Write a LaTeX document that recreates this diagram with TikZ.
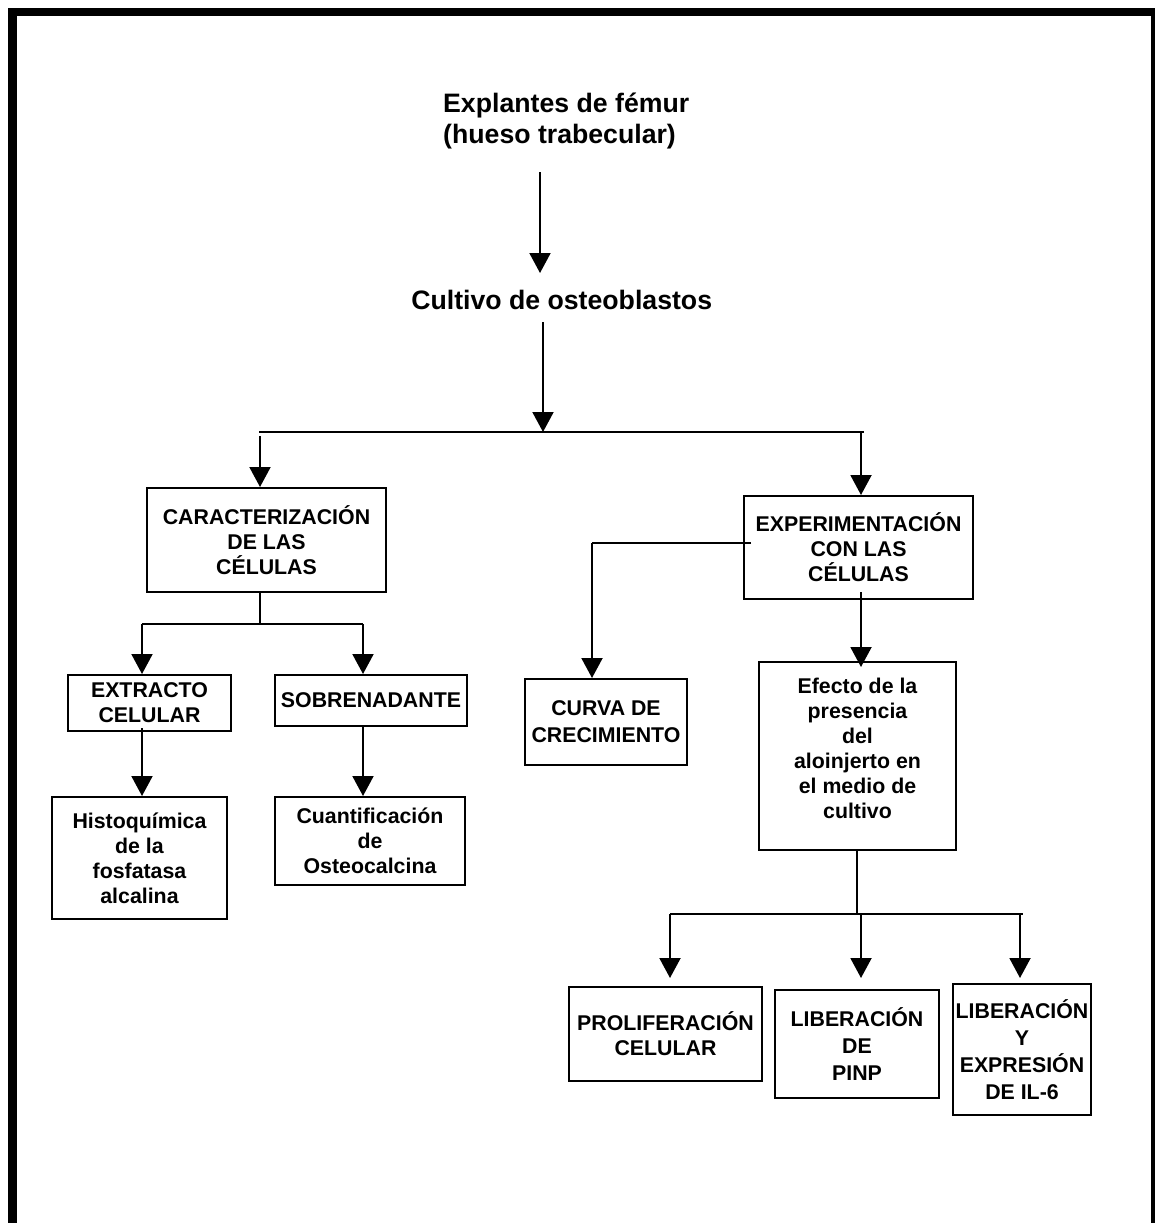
\documentclass[tikz,border=0pt]{standalone}
\usepackage{fontspec}
\setmainfont{Liberation Sans}
\usetikzlibrary{arrows.meta}
\newcommand\boxfnt{\fontsize{21.33}{25}\selectfont\bfseries}
\newcommand\boxfntb{\fontsize{21.33}{27}\selectfont\bfseries}
\newcommand\ttlfnt{\fontsize{26.67}{31}\selectfont\bfseries}
\begin{document}
\begin{tikzpicture}[x=1pt,y=-1pt,
  bx/.style={draw,line width=2pt,inner sep=0pt,align=center,font=\boxfnt},
  ln/.style={line width=2pt},
  arr/.style={line width=2pt,-{Triangle[width=21pt,length=20pt]}},
  ttl/.style={inner sep=0pt,font=\ttlfnt}]
\useasboundingbox (0,0) rectangle (1155,1223);
\begin{scope}
\clip (0,0) rectangle (1155,1223);
\draw[line width=8.4pt] (12.5,12) rectangle (1155,1300);
\end{scope}
% texts
\node[ttl,align=left,anchor=west] (t1) at (443,121) {Explantes de fémur\\(hueso trabecular)};
\node[ttl,anchor=base] (t2) at (561.7,309) {Cultivo de osteoblastos};
% boxes
\node[bx,minimum width=239pt,minimum height=104pt] (car) at (266.5,540) {CARACTERIZACIÓN\\DE LAS\\CÉLULAS};
\node[bx,minimum width=163pt,minimum height=56pt] (ext) at (149.5,703) {EXTRACTO\\CELULAR};
\node[bx,minimum width=192pt,minimum height=51pt] (sob) at (371,700.5) {SOBRENADANTE};
\node[bx,minimum width=175pt,minimum height=122pt] (his) at (139.5,858) {Histoquímica\\de la\\fosfatasa\\alcalina};
\node[bx,minimum width=190pt,minimum height=88pt] (cua) at (370,841) {Cuantificación\\de\\Osteocalcina};
\node[bx,minimum width=229pt,minimum height=103pt] (exp) at (858.5,547.5) {EXPERIMENTACIÓN\\CON LAS\\CÉLULAS};
\node[bx,font=\boxfntb,minimum width=162pt,minimum height=86pt] (cur) at (606,722) {CURVA DE\\CRECIMIENTO};
\node[bx,minimum width=197pt,minimum height=188pt] (efe) at (857.5,756) {Efecto de la\\presencia\\del\\aloinjerto en\\el medio de\\cultivo\\[-9pt]\mbox{}};
\node[bx,minimum width=193pt,minimum height=94pt] (pro) at (665.5,1034) {PROLIFERACIÓN\\CELULAR};
\node[bx,font=\boxfntb,minimum width=164pt,minimum height=108pt] (pin) at (857,1044) {LIBERACIÓN\\DE\\PINP};
\node[bx,font=\boxfntb,minimum width=138pt,minimum height=131pt] (il) at (1022,1049.5) {LIBERACIÓN\\Y\\EXPRESIÓN\\DE IL-6};
% connector points
\coordinate (a1s) at (540,172);
\coordinate (a1e) at (540,273);
\coordinate (a2s) at (543,322);
\coordinate (j1) at (543,432);
\coordinate (j1l) at (259,432);
\coordinate (j1r) at (864,432);
\coordinate (bl) at (260,436);
\coordinate (br) at (861,432);
\coordinate (j2) at (260,624);
\coordinate (j2l) at (142,624);
\coordinate (j2r) at (363,624);
\coordinate (e1) at (751,543);
\coordinate (e2) at (592,543);
\coordinate (j3) at (857,914);
\coordinate (j3l) at (670,914);
\coordinate (j3m) at (861,914);
\coordinate (j3r) at (1023,914);
\coordinate (j3rr) at (1020,914);
% connectors
\draw[arr] (a1s) -- (a1e);
\draw[arr] (a2s) -- (j1);
\draw[ln] (j1l) -- (j1r);
\draw[arr] (bl) -- (bl |- car.north);
\draw[arr] (br) -- (br |- exp.north);
\draw[ln] (car.south -| j2) -- (j2);
\draw[ln] (j2l) -- (j2r);
\draw[arr] (j2l) -- (j2l |- ext.north);
\draw[arr] (j2r) -- (j2r |- sob.north);
\draw[arr] ([yshift=4pt]ext.south -| j2l) -- (j2l |- his.north);
\draw[arr] (sob.south -| j2r) -- (j2r |- cua.north);
\draw[ln] (e1) -- (e2);
\draw[arr] (e2) -- (e2 |- cur.north);
\draw[arr] ([yshift=8pt]exp.south -| br) -- ([yshift=-6pt]br |- efe.north);
\draw[ln] (efe.south -| j3) -- (j3);
\draw[ln] (j3l) -- (j3r);
\draw[arr] (j3l) -- ([yshift=8pt]j3l |- pro.north);
\draw[arr] (j3m) -- ([yshift=11pt]j3m |- pin.north);
\draw[arr] (j3rr) -- ([yshift=5pt]j3rr |- il.north);
\end{tikzpicture}
\end{document}
